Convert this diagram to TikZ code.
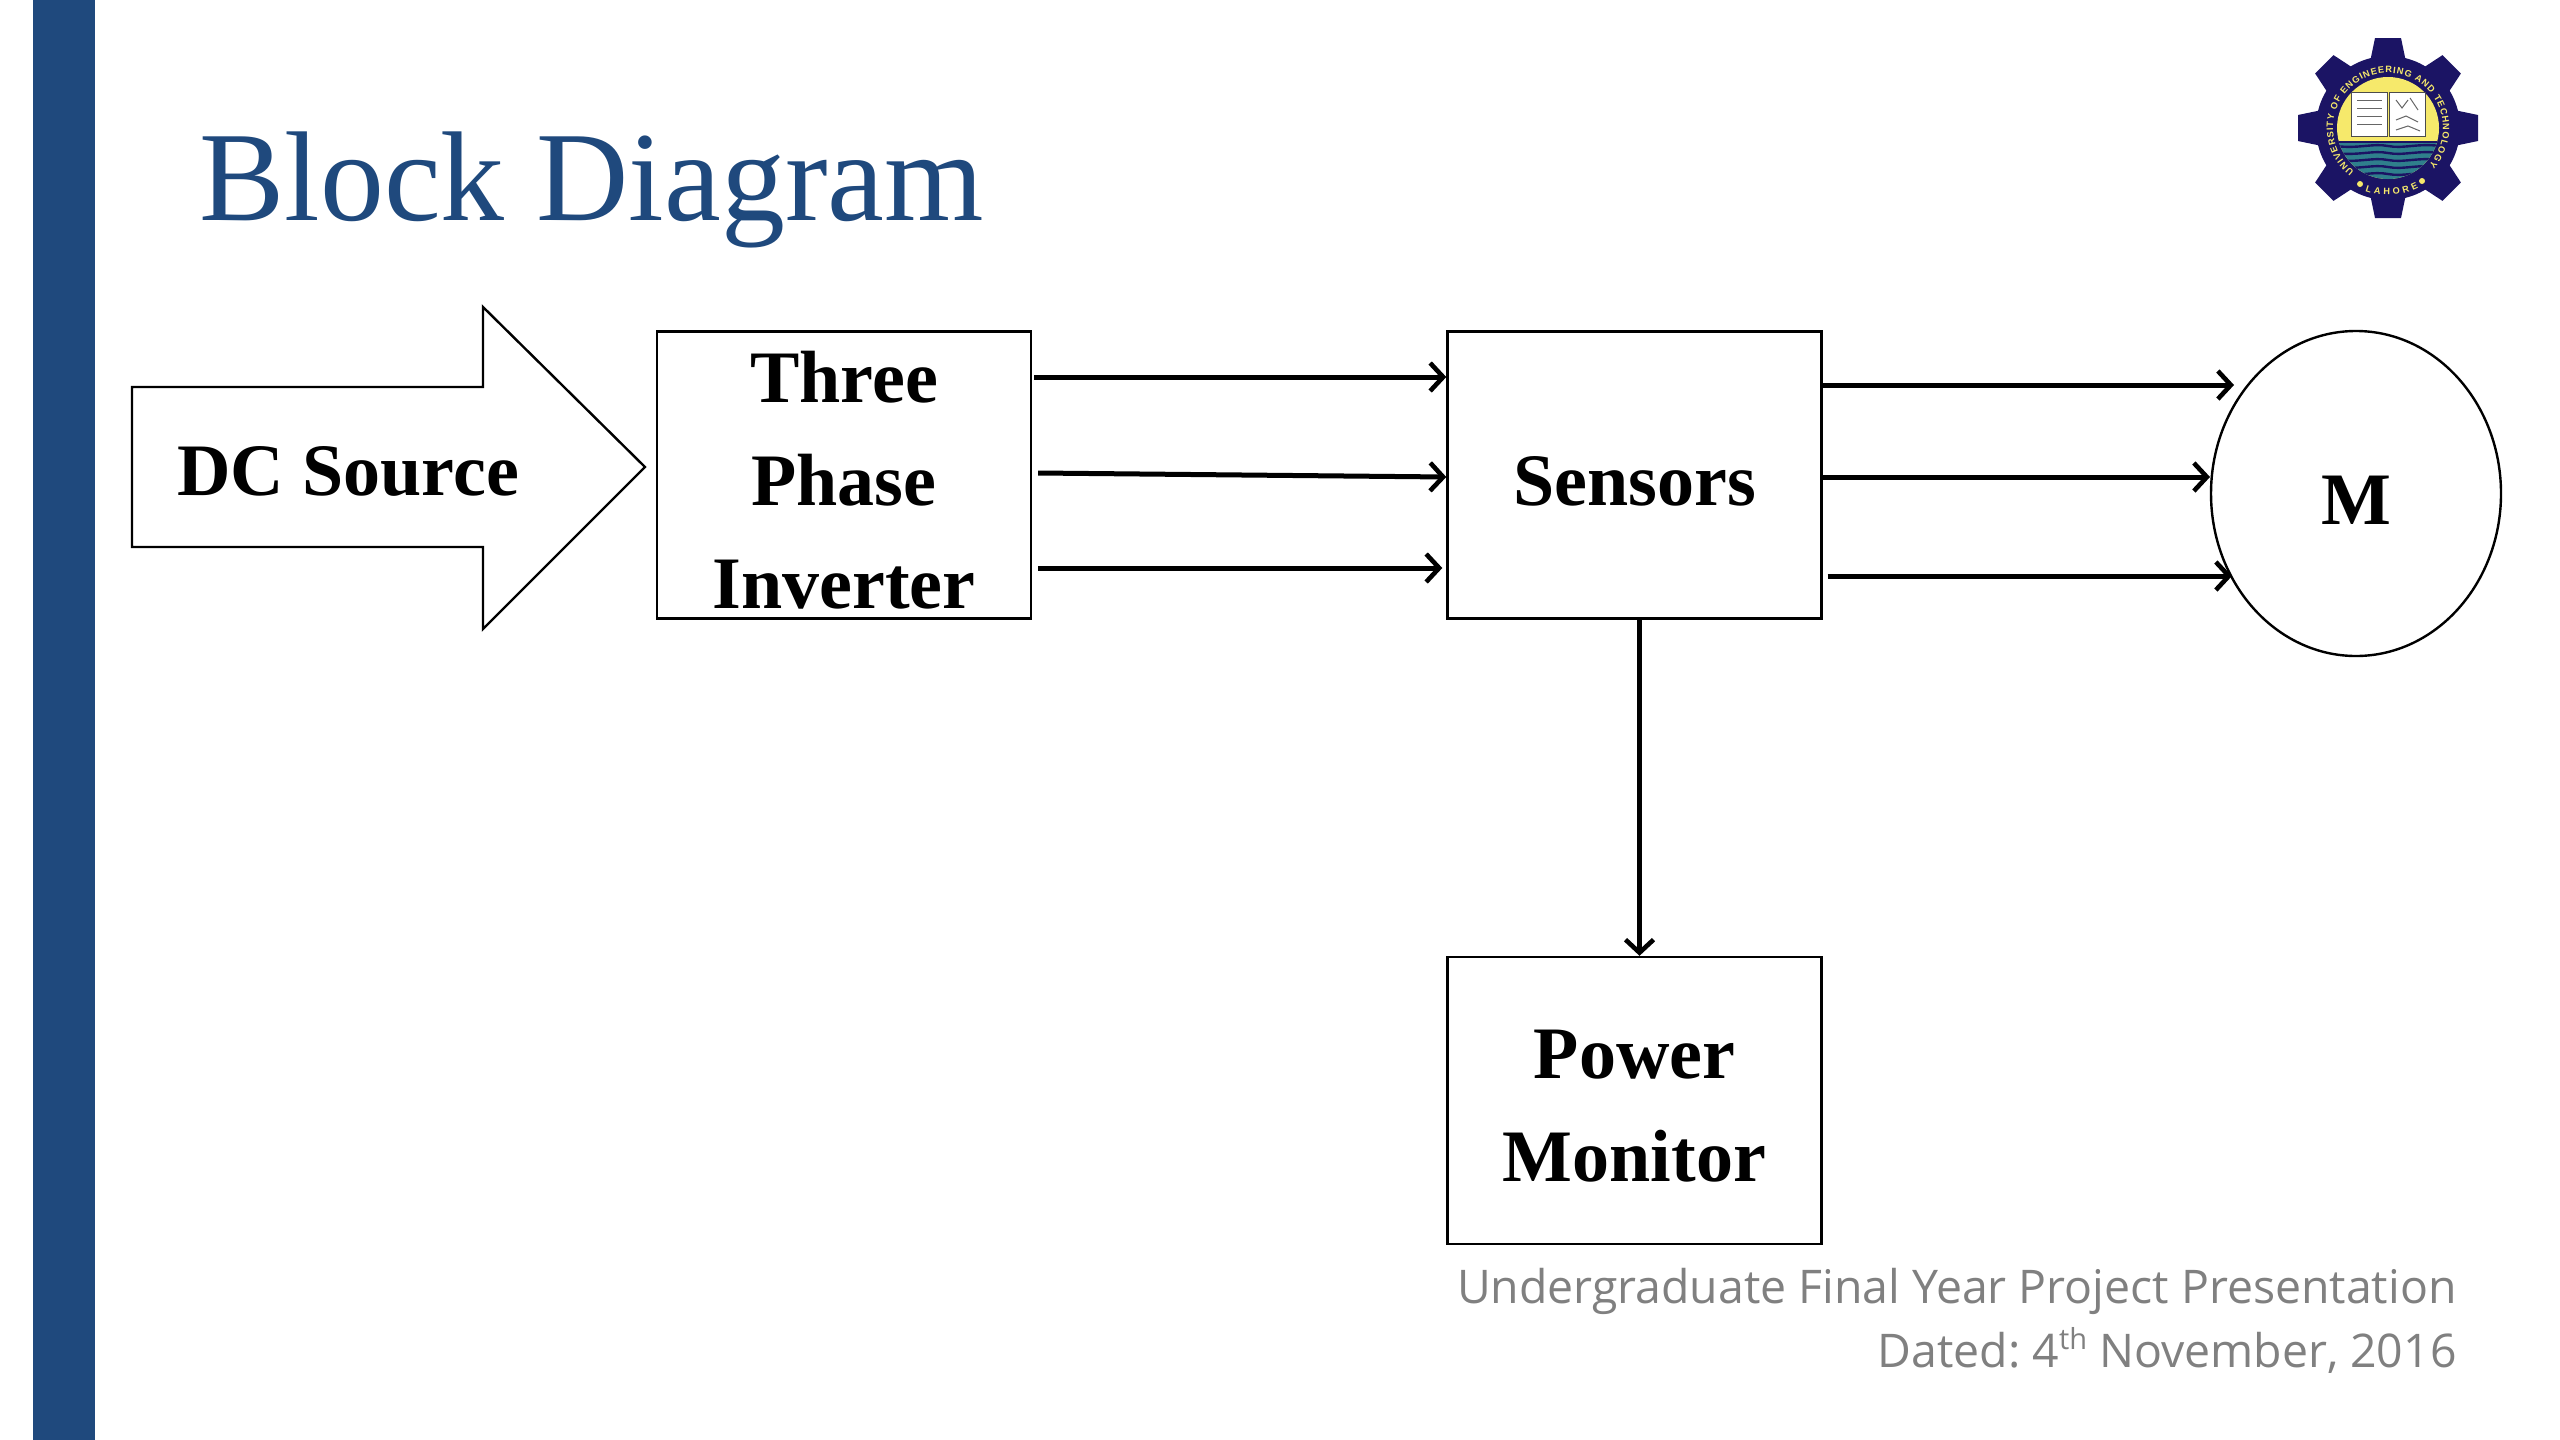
\documentclass[tikz,border=0pt]{standalone}
\usepackage{fontspec}
\setmainfont{Liberation Serif}
\newfontfamily\footfont{Open Sans}
\newfontfamily\logofont{Liberation Sans}
\usetikzlibrary{arrows.meta,shapes.geometric,decorations.text}
\definecolor{slideblue}{HTML}{1F497D}
\definecolor{footgrey}{HTML}{808080}
\definecolor{logonavy}{HTML}{1B1464}
\definecolor{logoyellow}{HTML}{F6E96B}
\definecolor{logoteal}{HTML}{2F7F8C}
\newcommand{\blocktext}[2]{\makebox[0pt]{\raisebox{#1}[0pt][0pt]{\parbox{188pt}{\centering\bfseries\fontsize{37}{51.4}\selectfont #2}}}}
\tikzset{
  block/.style={draw=black,line width=1.2pt,fill=white,rectangle,minimum width=187pt,minimum height=143.5pt,inner sep=0pt},
  motor/.style={draw=black,line width=1.2pt,fill=white,ellipse,minimum width=145pt,minimum height=162.5pt,inner sep=0pt},
  conn/.style={draw=black,line width=2.5pt,-{Straight Barb[length=6.5pt,width=14pt,line width=2.3pt]}},
  titletext/.style={inner sep=0pt,anchor=base west,text=slideblue,font=\fontsize{63.9}{70}\selectfont},
  foottext/.style={inner sep=0pt,anchor=base east,text=footgrey,font=\footfont\frenchspacing\fontsize{23.2}{26}\selectfont}
}
\begin{document}
\begin{tikzpicture}[x=0.5pt,y=-0.5pt]
\useasboundingbox (0,0) rectangle (2560,1440);
\fill[white] (0,0) rectangle (2560,1440);
\fill[slideblue] (33,0) rectangle (95,1440);
\node[titletext] (title) at (199,220) {Block Diagram};

% DC source arrow
\draw[black,line width=1.2pt,fill=white,line join=miter] (132,387) -- (483,387) -- (483,307) -- (645,467) -- (483,629) -- (483,547) -- (132,547) -- cycle;
\node[inner sep=0pt,anchor=base,font=\bfseries\fontsize{37}{44}\selectfont] (dc) at (348,495.5) {DC Source};

% blocks
\node[block] (inv) at (844,475) {\blocktext{-5pt}{Three\\Phase\\Inverter}};
\node[block] (sen) at (1634.5,475) {\blocktext{-5.5pt}{Sensors}};
\node[block] (pow) at (1634.5,1100.5) {\blocktext{-5.5pt}{Power\\Monitor}};
\node[motor] (mot) at (2356,493.5) {\blocktext{-6pt}{M}};

\coordinate (m1) at (2234,385);
\coordinate (m2) at (2210,477);
\coordinate (m3) at (2232,576);

\draw[conn] ([yshift=49pt,xshift=1pt]inv.east) -- ([yshift=49pt]sen.west);
\draw[conn] ([yshift=1pt,xshift=3pt]inv.east) -- ([yshift=-1pt]sen.west);
\draw[conn] ([yshift=-46.5pt,xshift=3pt]inv.east) -- ([yshift=-46.5pt,xshift=-2pt]sen.west);
\draw[conn] ([yshift=45pt]sen.east) -- (m1);
\draw[conn] ([yshift=-1pt]sen.east) -- (m2);
\draw[conn] ([yshift=-50.5pt,xshift=2.5pt]sen.east) -- (m3);
\draw[conn] ([xshift=2.5pt]sen.south) -- ([xshift=2.5pt]pow.north);

% footer
\node[foottext] (foot1) at (2457,1303) {Undergraduate Final Year Project Presentation};
\node[foottext] (foot2) at (2457,1367) {Dated: 4\raisebox{9pt}{\fontsize{14.5}{15}\selectfont th} November, 2016};

% logo
\begin{scope}[shift={(2388,128)},y=0.5pt]
  \foreach \a in {0,45,...,315}{
    \fill[logonavy,rotate=\a] (-18,66) -- (-13,90) -- (13,90) -- (18,66) -- cycle;
  }
  \fill[logonavy] (0,0) circle[radius=72];
  \fill[logoyellow] (0,0) circle[radius=51];
  \begin{scope}
    \clip (0,0) circle[radius=51];
    \fill[logoteal] (-52,-14) rectangle (52,-54);
    \foreach \yy in {-18,-25,-32,-39,-46}{
      \draw[logonavy,line width=1.2pt] (-52,\yy) .. controls (-30,\yy-3) and (-15,\yy+3) .. (0,\yy) .. controls (15,\yy-3) and (30,\yy+3) .. (52,\yy);
    }
    \draw[logonavy,line width=1.2pt] (-52,-14) -- (52,-14);
  \end{scope}
  \fill[white,draw=black!70,line width=0.5pt] (-37,-8) -- (-37,36) -- (-1,36) -- (-1,-8) -- cycle;
  \fill[white,draw=black!70,line width=0.5pt] (1,-8) -- (1,36) -- (37,36) -- (37,-8) -- cycle;
  \foreach \yy in {28,20,12,4}{
    \draw[black!60,line width=0.5pt] (-31,\yy) -- (-6,\yy);
  }
  \draw[black!60,line width=0.5pt] (8,28) -- (14,20) -- (20,28);
  \draw[black!60,line width=0.5pt] (22,30) -- (30,18);
  \draw[black!60,line width=0.5pt] (8,8) -- (18,12) -- (30,6);
  \draw[black!60,line width=0.5pt] (8,-2) -- (20,2) -- (32,-3);
  \fill[logoyellow] (-28,-56) circle[radius=3];
  \fill[logoyellow] (34,-53) circle[radius=3];
  \path[decorate,decoration={text along path,text align=fit to path,
    text={|\logofont\fontsize{4.6}{6}\selectfont\bfseries\color{logoyellow}|UNIVERSITY OF ENGINEERING AND TECHNOLOGY}}]
    (232:55) arc[start angle=232,end angle=-42,radius=55];
  \path[decorate,decoration={text along path,text align=fit to path,
    text={|\logofont\fontsize{4.6}{6}\selectfont\bfseries\color{logoyellow}|LAHORE}}]
    (250:67) arc[start angle=250,end angle=297,radius=67];
\end{scope}
\end{tikzpicture}
\end{document}
